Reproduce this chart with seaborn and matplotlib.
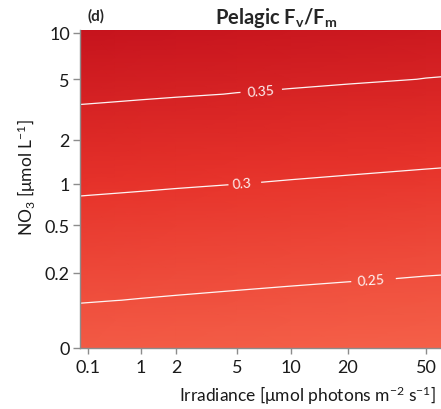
import numpy as np
import matplotlib
matplotlib.use("Agg")
import matplotlib.pyplot as plt
import seaborn as sns

# Grid
irradiance = [0, 0.1, 0.5, 1, 2, 5, 10, 20, 50, 100]                   # umol photons m-2 s-1
nitrate = [0, 0.05, 0.1, 0.2, 0.3, 0.5, 0.7, 1, 1.5, 2, 3, 4, 5, 7, 10.5]  # umol L-1
# Fv/Fm, one row per nitrate value, one column per irradiance value
fvfm = [
    [0.2310, 0.2307, 0.2298, 0.2290, 0.2277, 0.2257, 0.2239, 0.2220, 0.2194, 0.2174],
    [0.2429, 0.2426, 0.2417, 0.2409, 0.2396, 0.2376, 0.2358, 0.2339, 0.2313, 0.2293],
    [0.2515, 0.2512, 0.2502, 0.2493, 0.2481, 0.2461, 0.2443, 0.2424, 0.2398, 0.2378],
    [0.2643, 0.2641, 0.2631, 0.2622, 0.2608, 0.2586, 0.2567, 0.2547, 0.2518, 0.2497],
    [0.2735, 0.2732, 0.2722, 0.2713, 0.2700, 0.2678, 0.2659, 0.2638, 0.2610, 0.2589],
    [0.2864, 0.2861, 0.2851, 0.2842, 0.2829, 0.2807, 0.2788, 0.2767, 0.2739, 0.2717],
    [0.2955, 0.2952, 0.2942, 0.2933, 0.2920, 0.2898, 0.2879, 0.2858, 0.2830, 0.2809],
    [0.3067, 0.3063, 0.3052, 0.3041, 0.3025, 0.3000, 0.2981, 0.2960, 0.2931, 0.2910],
    [0.3207, 0.3204, 0.3192, 0.3181, 0.3166, 0.3140, 0.3117, 0.3093, 0.3060, 0.3035],
    [0.3309, 0.3305, 0.3294, 0.3283, 0.3267, 0.3241, 0.3219, 0.3195, 0.3161, 0.3136],
    [0.3454, 0.3451, 0.3439, 0.3428, 0.3413, 0.3387, 0.3364, 0.3340, 0.3307, 0.3282],
    [0.3563, 0.3559, 0.3547, 0.3535, 0.3519, 0.3492, 0.3470, 0.3446, 0.3412, 0.3387],
    [0.3650, 0.3646, 0.3634, 0.3622, 0.3606, 0.3579, 0.3555, 0.3529, 0.3494, 0.3469],
    [0.3780, 0.3776, 0.3764, 0.3753, 0.3736, 0.3709, 0.3685, 0.3659, 0.3624, 0.3597],
    [0.3939, 0.3936, 0.3923, 0.3912, 0.3895, 0.3868, 0.3844, 0.3819, 0.3783, 0.3757],
]
levels = [0.25, 0.3, 0.35]
x_ticks = [0.1, 1, 2, 5, 10, 20, 50]
y_ticks = [0, 0.2, 0.5, 1, 2, 5, 10]

sns.set_style("ticks")
plt.rcParams["font.family"] = ["Lato", "DejaVu Sans"]
plt.rcParams["mathtext.default"] = "regular"

# axis transforms (log of shifted values)
fx = (lambda v: np.log10(np.asarray(v) + 1.0), lambda v: 10.0 ** np.asarray(v) - 1.0)
fy = (lambda v: np.log10(np.asarray(v) + 0.1), lambda v: 10.0 ** np.asarray(v) - 0.1)

fig = plt.figure(figsize=(4.41, 4.10), dpi=100)
W, H = 441, 410
left, right, top, bottom = 79.5, 472, 31, 348.5
ax = fig.add_axes([left / W, (H - bottom) / H, (right - left) / W, (bottom - top) / H])
ax.set_xscale("function", functions=fx)
ax.set_yscale("function", functions=fy)

I, N = np.meshgrid(irradiance, nitrate)
Z = np.array(fvfm)

cmap = sns.blend_palette(["#f5624a", "#e6322a", "#c6131d"], as_cmap=True)
ax.pcolormesh(I, N, Z, shading="gouraud", cmap=cmap, vmin=0.215, vmax=0.395)
cs = ax.contour(I, N, Z, levels=levels, colors="white", linewidths=0.9, alpha=0.95)
ax.clabel(cs, fmt="%g", fontsize=10, colors="white", inline=True, inline_spacing=6,
          manual=[(26.5, 0.156), (5.3, 1.03), (6.8, 4.2)])

ax.set_xlim(0, 85)
ax.set_ylim(0, 10.4)
ax.set_xticks(x_ticks)
ax.set_xticklabels([f"{t:g}" for t in x_ticks])
ax.set_yticks(y_ticks)
ax.set_yticklabels([f"{t:g}" for t in y_ticks])
ax.minorticks_off()

for s in ["top", "right"]:
    ax.spines[s].set_visible(False)
for s in ["left", "bottom"]:
    ax.spines[s].set_color("#8c8c8c")
    ax.spines[s].set_linewidth(1)
ax.tick_params(axis="both", length=5, width=1, color="#8c8c8c", labelsize=13,
               labelcolor="#1a1a1a", pad=2)
ax.tick_params(axis="x", length=4.5, pad=4)

ax.set_xlabel("Irradiance [μmol photons m$^{-2}$ s$^{-1}$]", fontsize=12.5, color="#1a1a1a")
ax.set_ylabel("NO$_3$ [μmol L$^{-1}$]", fontsize=12.5, color="#1a1a1a")
ax.xaxis.set_label_coords(0.58, -0.115)
ax.yaxis.set_label_coords(-0.105, 0.54)

ax.set_title("Pelagic F$_v$/F$_m$", fontsize=14.5, fontweight="bold", pad=5)
fig.text(96 / W, 1 - 16 / H, "(d)", fontsize=11, fontweight="bold", ha="center", va="center")

plt.savefig("out.png", dpi=100)
